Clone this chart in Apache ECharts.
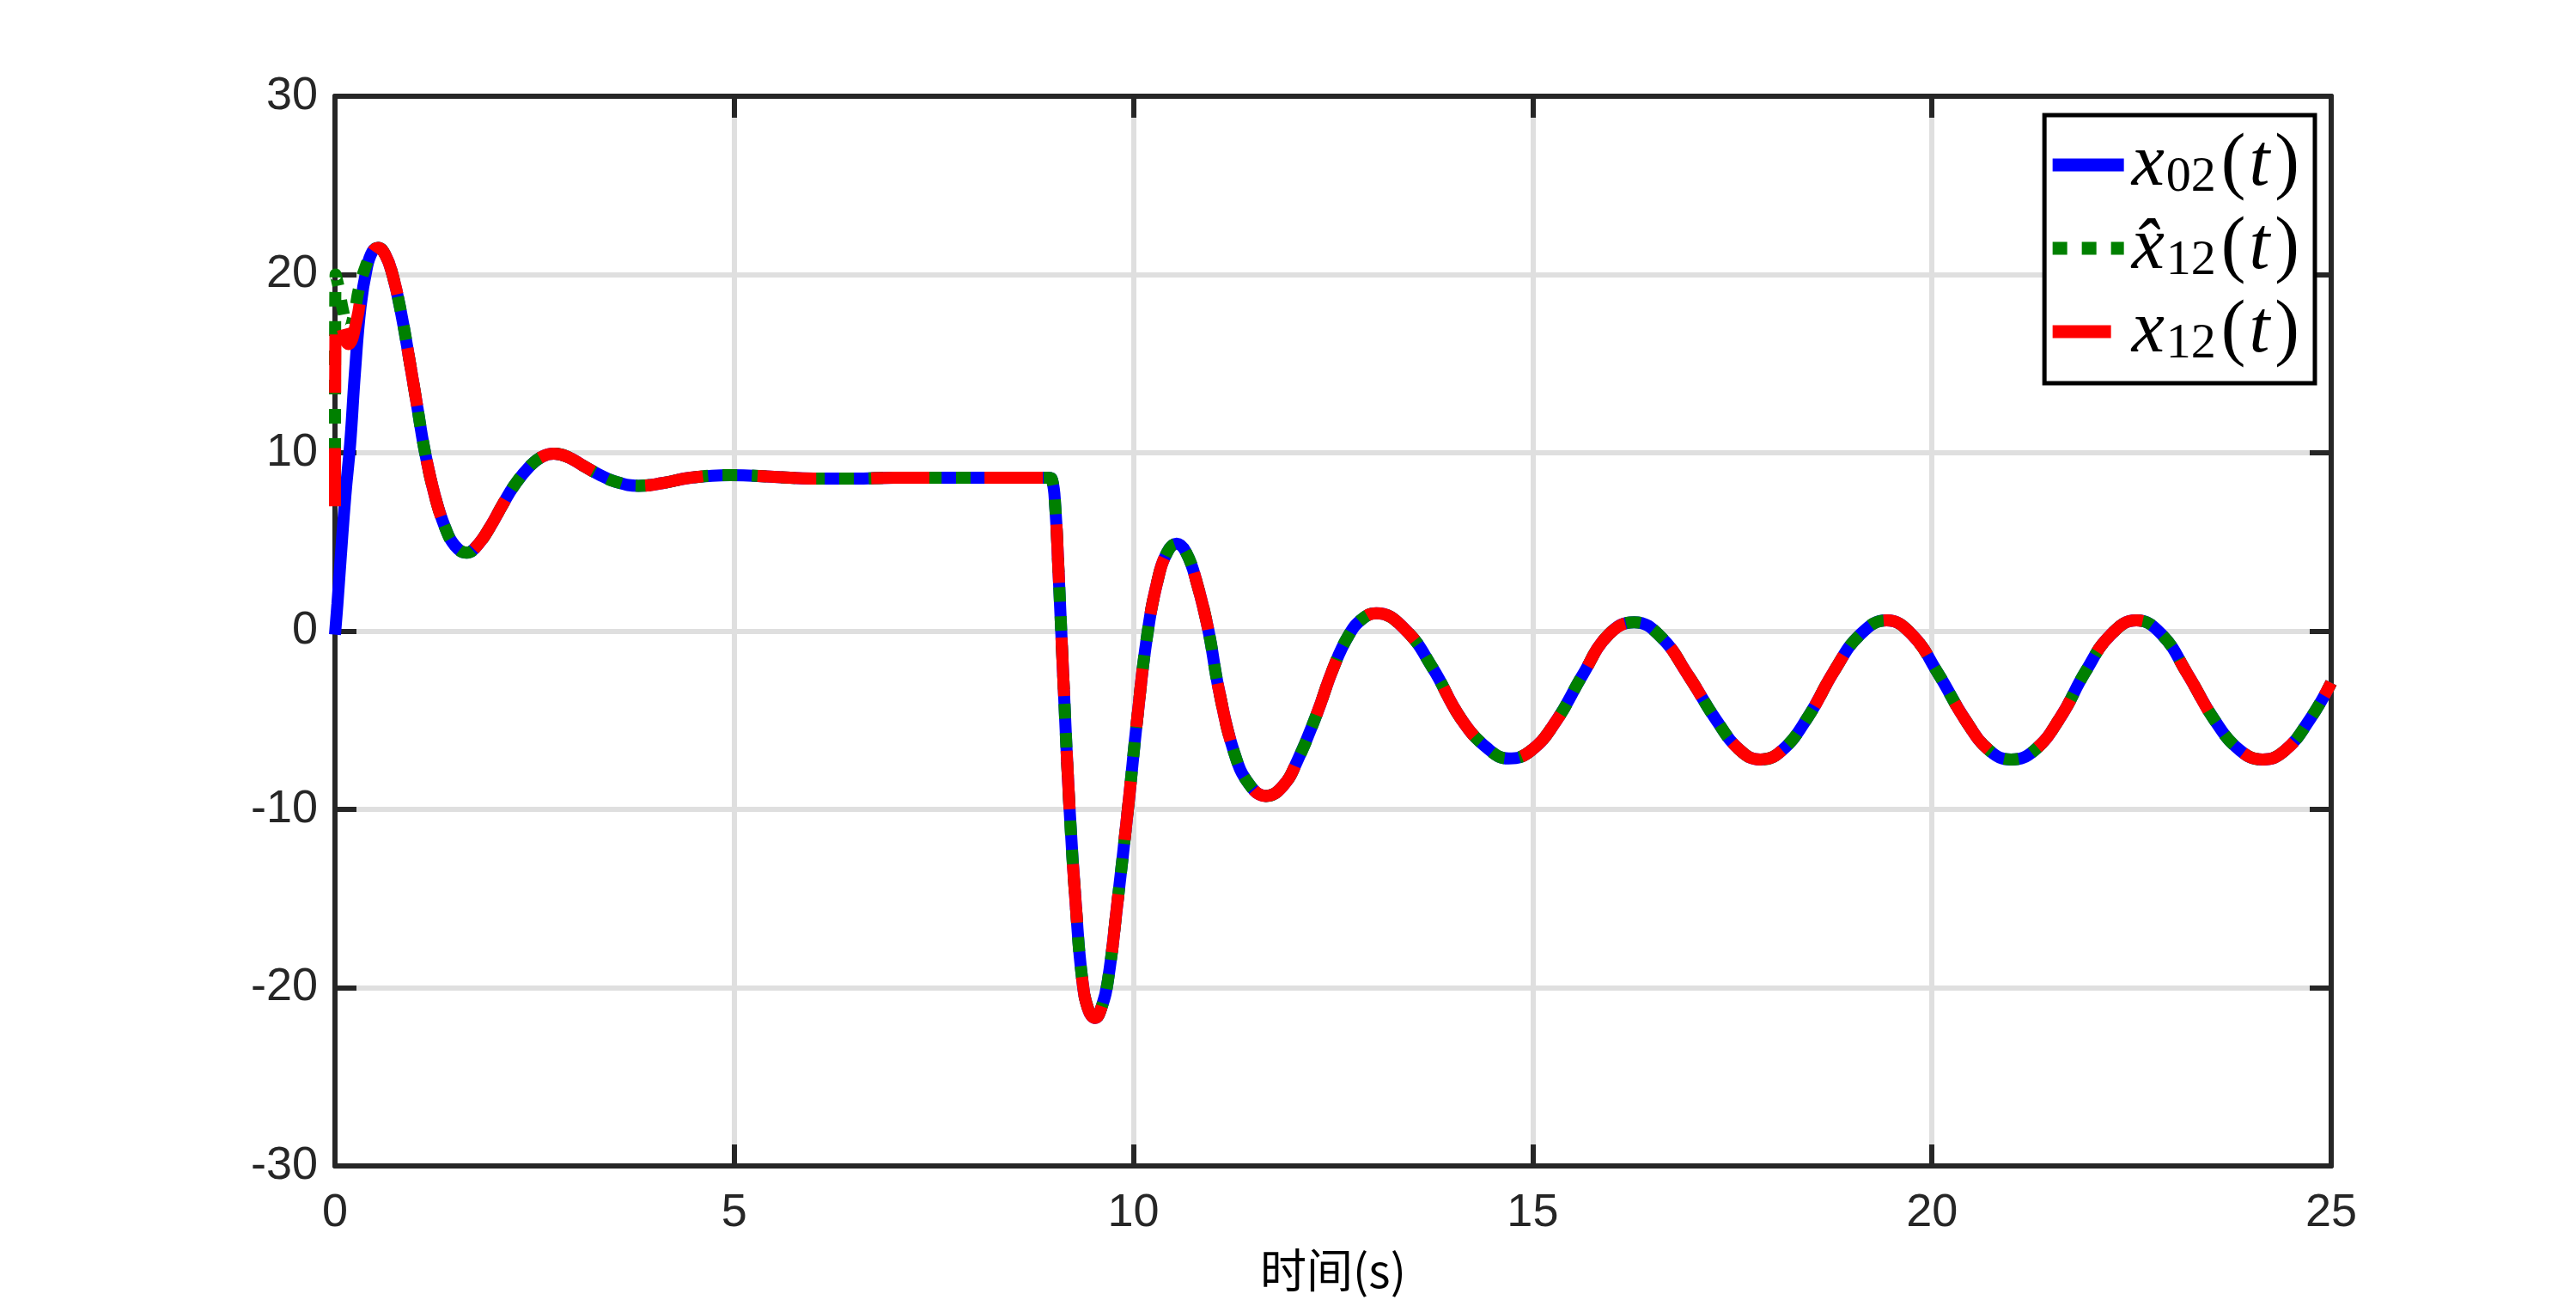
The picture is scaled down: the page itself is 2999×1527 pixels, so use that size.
<!DOCTYPE html>
<html>
<head>
<meta charset="utf-8">
<script src="https://cdn.jsdelivr.net/npm/echarts@6/dist/echarts.min.js"></script>
<style>
html,body{margin:0;padding:0;background:#fff;}
#chart{width:2999px;height:1527px;}
</style>
</head>
<body>
<div id="chart"></div>
<script>
// ---- data ----
// initial (t < 0.54 s) portions, one per curve
const tHeadX02 = [0, 0.03, 0.07, 0.13, 0.19, 0.25, 0.32, 0.40, 0.47];
const vHeadX02 = [-0.2, 1.5, 4.0, 7.6, 10.5, 14.5, 18.2, 20.4, 21.3];

const tHeadXhat12 = [0, 0.008, 0.05, 0.10, 0.17, 0.24, 0.30, 0.38, 0.47];
const vHeadXhat12 = [10.0, 20.0, 19.2, 18.0, 16.9, 17.8, 19.2, 20.4, 21.3];

const tHeadX12 = [0, 0.012, 0.08, 0.17, 0.27, 0.36, 0.45];
const vHeadX12 = [7.0, 18.3, 17.2, 16.1, 17.4, 19.8, 21.1];

// common part (all three curves coincide for t >= 0.54 s)
const tCommon = [0.54, 0.63, 0.72, 0.83, 0.94, 1.03, 1.12, 1.25, 1.38, 1.5, 1.65, 1.8, 1.95, 2.1, 2.25, 2.45, 2.6, 2.74, 2.9, 3.1, 3.3, 3.5, 3.8, 4.1, 4.45, 4.95, 5.5, 6.0, 6.5, 7.0, 7.5, 8.0, 8.5, 8.93, 8.98, 9.02, 9.06, 9.12, 9.2, 9.28, 9.36, 9.44, 9.52, 9.6, 9.68, 9.8, 9.93, 10.05, 10.17, 10.3, 10.42, 10.54, 10.66, 10.8, 10.94, 11.07, 11.26, 11.45, 11.66, 11.87, 12.05, 12.3, 12.5, 12.7, 12.87, 13.04, 13.4, 13.75, 14.1, 14.44, 14.7, 14.98, 15.3, 15.62, 15.95, 16.27, 16.6, 16.95, 17.3, 17.6, 17.85, 18.12, 18.45, 18.78, 19.1, 19.43, 19.75, 20.08, 20.42, 20.72, 20.99, 21.28, 21.6, 21.92, 22.24, 22.56, 22.88, 23.2, 23.54, 23.86, 24.14, 24.42, 24.74, 25.0];
const vCommon = [21.5, 21.1, 20.0, 17.8, 15.0, 12.6, 10.2, 7.6, 5.8, 4.8, 4.4, 4.9, 5.9, 7.1, 8.2, 9.3, 9.8, 9.95, 9.8, 9.3, 8.8, 8.4, 8.15, 8.3, 8.6, 8.75, 8.65, 8.55, 8.55, 8.6, 8.6, 8.6, 8.6, 8.6, 8.5, 7.0, 3.5, -2.5, -10.0, -15.5, -19.6, -21.3, -21.7, -21.1, -19.6, -15.2, -10.0, -4.8, -0.3, 2.8, 4.4, 4.9, 4.4, 2.6, 0.0, -3.3, -6.8, -8.6, -9.25, -8.7, -7.3, -4.6, -2.1, -0.2, 0.7, 1.0, 0.1, -2.1, -4.9, -6.6, -7.15, -6.7, -5.0, -2.5, -0.2, 0.5, -0.3, -2.5, -5.0, -6.7, -7.2, -6.7, -4.8, -2.2, -0.2, 0.6, -0.2, -2.4, -5.0, -6.7, -7.2, -6.7, -4.9, -2.3, -0.2, 0.6, -0.2, -2.4, -5.0, -6.7, -7.2, -6.7, -4.9, -2.9];

// axis ticks
const xTicks = [0, 5, 10, 15, 20, 25];
const yTicks = [-30, -20, -10, 0, 10, 20, 30];

const seriesNames = ['x02', 'xhat12', 'x12'];

// ---- build ----
function pairs(ts, vs) { return ts.map((t, i) => [t, vs[i]]); }
const common = pairs(tCommon, vCommon);
const dataX02 = pairs(tHeadX02, vHeadX02).concat(common);
const dataXhat12 = pairs(tHeadXhat12, vHeadXhat12).concat(common);
const dataX12 = pairs(tHeadX12, vHeadX12).concat(common);

const AX = '#262626';
const LW = 14;

const chart = echarts.init(document.getElementById('chart'), null, {renderer: 'canvas'});

const baseX = {
  type: 'value', min: xTicks[0], max: xTicks[xTicks.length - 1], interval: 5,
  axisLine: {show: true, onZero: false, lineStyle: {color: AX, width: 6}},
  axisTick: {show: true, inside: true, length: 25, lineStyle: {color: AX, width: 6}},
};
const baseY = {
  type: 'value', min: yTicks[0], max: yTicks[yTicks.length - 1], interval: 10,
  axisLine: {show: true, onZero: false, lineStyle: {color: AX, width: 6}},
  axisTick: {show: true, inside: true, length: 25, lineStyle: {color: AX, width: 6}},
};

const legendText = {
  x02: '{i|x}{s|02}{r|(}{t|t}{r|)}',
  xhat12: '{i|x\u0302}{s|12}{r|(}{t|t}{r|)}',
  x12: '{i|x}{s|12}{r|(}{t|t}{r|)}'
};

const option = {
  animation: false,
  backgroundColor: '#ffffff',
  grid: {left: 390, right: 285, top: 112, bottom: 170, containLabel: false},
  xAxis: [
    Object.assign({}, baseX, {
      position: 'bottom',
      axisLabel: {show: true, fontSize: 54, color: AX, fontFamily: 'Liberation Sans, Arial, sans-serif', margin: 28},
      splitLine: {show: true, lineStyle: {color: '#dfdfdf', width: 6}},
      name: '时间(s)', nameLocation: 'middle', nameGap: 94,
      nameTextStyle: {fontSize: 54, color: '#000', fontFamily: 'Noto Sans CJK SC'}
    }),
    Object.assign({}, baseX, {
      position: 'top',
      axisLabel: {show: false},
      splitLine: {show: false}
    })
  ],
  yAxis: [
    Object.assign({}, baseY, {
      position: 'left',
      axisLabel: {show: true, fontSize: 54, color: AX, fontFamily: 'Liberation Sans, Arial, sans-serif', margin: 20},
      splitLine: {show: true, lineStyle: {color: '#dfdfdf', width: 6}}
    }),
    Object.assign({}, baseY, {
      position: 'right',
      axisLabel: {show: false},
      splitLine: {show: false}
    })
  ],
  legend: {
    show: true,
    data: seriesNames,
    orient: 'vertical',
    right: 304,
    top: 134,
    padding: [15, 16, 16, 2],
    itemGap: 10,
    itemWidth: 83,
    itemHeight: 20,
    backgroundColor: '#ffffff',
    borderColor: '#000000',
    borderWidth: 5,
    selectedMode: false,
    z: 10,
    itemStyle: {opacity: 0},
    lineStyle: {width: 15},
    formatter: function (name) { return legendText[name]; },
    textStyle: {
      color: '#000',
      rich: {
        i: {fontFamily: 'Liberation Serif', fontStyle: 'italic', fontSize: 86, color: '#000', lineHeight: 90, padding: [0, 2, 0, 4]},
        s: {fontFamily: 'Liberation Serif', fontSize: 58, color: '#000', padding: [30, 4, 0, 0]},
        r: {fontFamily: 'Liberation Serif', fontSize: 86, color: '#000', lineHeight: 90, padding: [0, 2, 0, 2]},
        t: {fontFamily: 'Liberation Serif', fontStyle: 'italic', fontSize: 86, color: '#000', lineHeight: 90, padding: [0, 4, 0, 2]}
      }
    }
  },
  series: [
    {
      name: 'x02', type: 'line', data: dataX02, xAxisIndex: 0, yAxisIndex: 0,
      showSymbol: false, symbol: 'none', smooth: 0.45,
      lineStyle: {color: '#0000ff', width: LW, type: 'solid', cap: 'butt'},
      itemStyle: {color: '#0000ff'}, z: 2
    },
    {
      name: 'xhat12', type: 'line', data: dataXhat12, xAxisIndex: 0, yAxisIndex: 0,
      showSymbol: false, symbol: 'none', smooth: 0.45,
      lineStyle: {color: '#008000', width: LW, type: [17, 17], cap: 'butt'},
      itemStyle: {color: '#008000'}, z: 3
    },
    {
      name: 'x12', type: 'line', data: dataX12, xAxisIndex: 0, yAxisIndex: 0,
      showSymbol: false, symbol: 'none', smooth: 0.45,
      lineStyle: {color: '#ff0000', width: LW, type: [68, 64], cap: 'butt'},
      itemStyle: {color: '#ff0000'}, z: 4
    }
  ]
};
chart.setOption(option);
</script>
</body>
</html>
